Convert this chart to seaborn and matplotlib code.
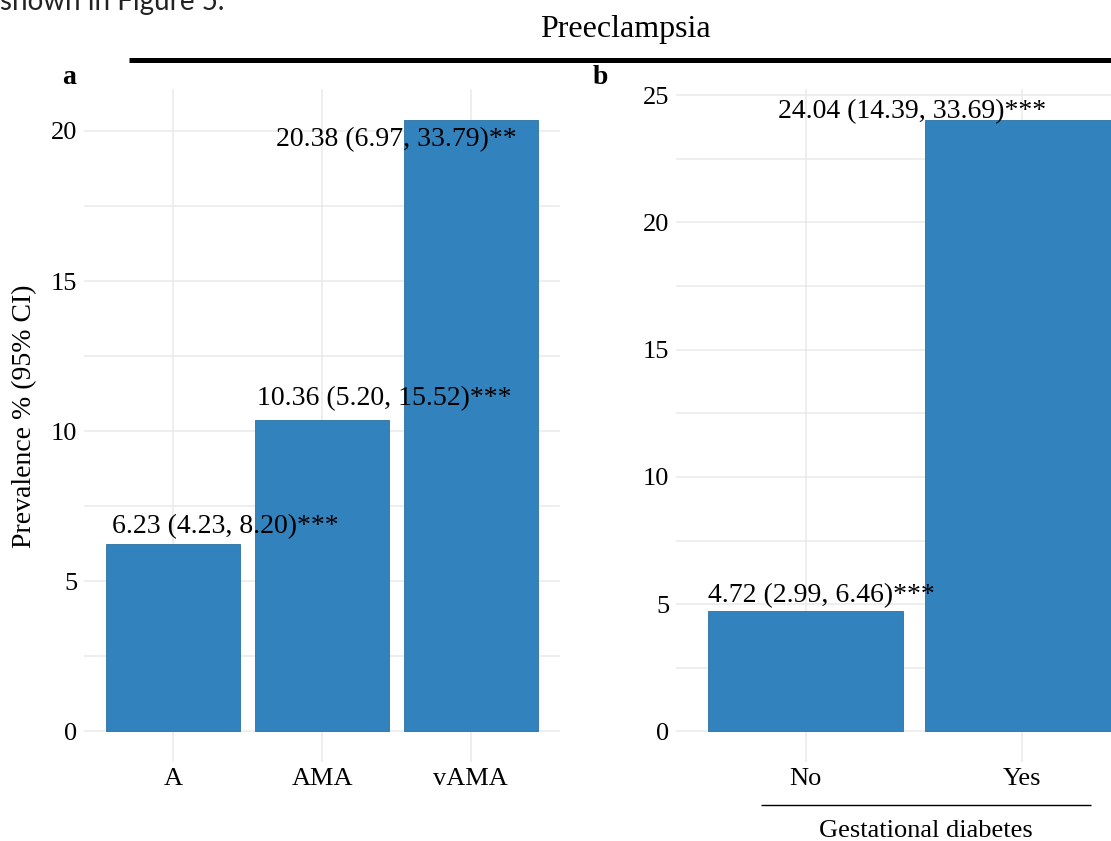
import matplotlib
matplotlib.use("Agg")
import matplotlib.pyplot as plt
import seaborn as sns
import pandas as pd
from matplotlib.ticker import MultipleLocator
from matplotlib.lines import Line2D

# ---------------- data ----------------
age_groups = ["A", "AMA", "vAMA"]
age_prev = [6.23, 10.36, 20.38]
age_ci_low = [4.23, 5.20, 6.97]
age_ci_high = [8.20, 15.52, 33.79]
age_sig = ["***", "***", "**"]

gdm_groups = ["No", "Yes"]
gdm_prev = [4.72, 24.04]
gdm_ci_low = [2.99, 14.39]
gdm_ci_high = [6.46, 33.69]
gdm_sig = ["***", "***"]

title_text = "Preeclampsia"
ylabel_text = "Prevalence % (95% CI)"
xlabel_b_text = "Gestational diabetes"
fragment_text = "shown in Figure 5."

# ---------------- style / placement ----------------
age_label_dx = [0.35, 0.42, -0.50]
age_label_dy = [0.60, 0.74, -0.68]
gdm_label_dx = [0.07, -0.51]
gdm_label_dy = [0.61, 0.31]

BAR = "#3182bd"
EDGE = "#2b70a3"
GRID = "#ebebeb"
W, H = 1111, 841

sns.set_theme(style="white")
plt.rcParams["font.family"] = ["Liberation Serif", "DejaVu Serif"]
plt.rcParams["mathtext.default"] = "regular"

fig = plt.figure(figsize=(W / 100, H / 100), dpi=100)
fig.patch.set_facecolor("white")

def px(x0, y0, x1, y1):
    return [x0 / W, 1 - y1 / H, (x1 - x0) / W, (y1 - y0) / H]

axA = fig.add_axes(px(84, 89, 560, 762))
axB = fig.add_axes(px(676, 89, 1152, 762))


def panel(ax, cats, vals, lo, hi, sig, dxs, dys):
    df = pd.DataFrame({"cat": cats, "val": vals})
    sns.barplot(data=df, x="cat", y="val", color=BAR, saturation=1,
                width=0.9, errorbar=None, ax=ax, edgecolor=EDGE, linewidth=0.6,
                zorder=2)
    n = len(cats)
    vmax = max(vals)
    ax.set_xlim(-0.6, n - 0.4)
    ax.set_ylim(-0.05 * vmax, 1.05 * vmax)
    ax.yaxis.set_major_locator(MultipleLocator(5))
    ax.yaxis.set_minor_locator(MultipleLocator(2.5))
    ax.set_axisbelow(True)
    ax.grid(True, which="major", axis="both", color=GRID, linewidth=1.2, zorder=0)
    ax.grid(True, which="minor", axis="y", color=GRID, linewidth=1.2, zorder=0)
    for s in ax.spines.values():
        s.set_visible(False)
    ax.tick_params(axis="both", which="both", length=0, labelsize=19,
                   labelcolor="black")
    ax.tick_params(axis="y", pad=5)
    ax.tick_params(axis="x", pad=4)
    ax.set_xlabel("")
    ax.set_ylabel("")
    for i, (v, l, h, s) in enumerate(zip(vals, lo, hi, sig)):
        ax.text(i + dxs[i], v + dys[i], f"{v:.2f} ({l:.2f}, {h:.2f}){s}",
                ha="center", va="center", fontsize=20, color="black", zorder=5)


panel(axA, age_groups, age_prev, age_ci_low, age_ci_high, age_sig,
      age_label_dx, age_label_dy)
panel(axB, gdm_groups, gdm_prev, gdm_ci_low, gdm_ci_high, gdm_sig,
      gdm_label_dx, gdm_label_dy)

# y label
fig.text(25 / W, 1 - 416 / H, ylabel_text, rotation=90, ha="center",
         va="center", fontsize=20, color="black")

# panel letters
fig.text(69 / W, 1 - 77 / H, "a", ha="center", va="center", fontsize=20,
         fontweight="bold", color="black")
fig.text(600 / W, 1 - 78 / H, "b", ha="center", va="center", fontsize=20,
         fontweight="bold", color="black")

# title and thick rule
fig.text(625 / W, 1 - 30 / H, title_text, ha="center", va="center",
         fontsize=23, color="black")
fig.add_artist(Line2D([129 / W, 1.0], [1 - 60 / H, 1 - 60 / H],
                      transform=fig.transFigure, color="black", linewidth=3.6,
                      solid_capstyle="butt"))

# x label for panel b with rule above
fig.add_artist(Line2D([761 / W, 1091 / W], [1 - 805 / H, 1 - 805 / H],
                      transform=fig.transFigure, color="black", linewidth=1.0,
                      solid_capstyle="butt"))
fig.text(926 / W, 1 - 831 / H, xlabel_b_text, ha="center", va="center",
         fontsize=19, color="black")

# clipped fragment of surrounding page text (cut at the top, as in the source)
fig.text(0.0, 1 - 10 / H, fragment_text, ha="left", va="baseline",
         fontsize=20, color="#222222", family=["Lato", "DejaVu Sans"])

fig.savefig("out.png", dpi=100, facecolor="white")
